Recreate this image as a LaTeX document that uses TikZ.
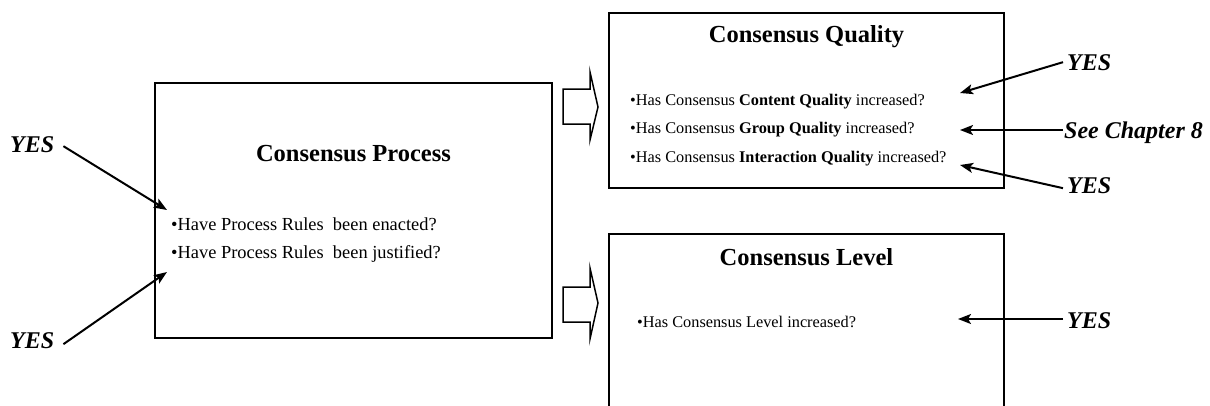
\documentclass[tikz,border=0pt]{standalone}
\usepackage{fontspec}
\setmainfont{Liberation Serif}
\usetikzlibrary{arrows.meta}
\begin{document}
\begin{tikzpicture}[x=1pt,y=-1pt,
  panel/.style={draw=black,line width=2pt,inner sep=0pt},
  heading/.style={font=\fontsize{24.5}{28}\selectfont\bfseries,anchor=base,inner sep=0pt},
  bigitem/.style={font=\fontsize{18.4}{22}\selectfont,anchor=base west,inner sep=0pt},
  smallitem/.style={font=\fontsize{16.3}{20}\selectfont,anchor=base west,inner sep=0pt},
  answer/.style={font=\fontsize{24}{28}\selectfont\bfseries\itshape,anchor=base west,inner sep=0pt},
  pointer/.style={line width=2pt,-{Stealth[length=13pt,width=10pt,inset=3pt]}},
  flow/.style={draw=black,line width=1.5pt,fill=white,line join=miter}]
\clip (0,0) rectangle (1210,405);

% the three panels
\node[panel,minimum width=397pt,minimum height=255pt] (proc) at (353.5,210.5) {};
\node[panel,minimum width=395pt,minimum height=175pt] (qual) at (806.5,100.5) {};
\node[panel,minimum width=395pt,minimum height=178pt] (lev) at (806.5,323) {};

% panel contents
\node[heading] (procT) at (353.5,161) {Consensus Process};
\node[bigitem] (p1) at (171,230) {\textbullet Have Process Rules\ \ been enacted?};
\node[bigitem] (p2) at (171,258) {\textbullet Have Process Rules\ \ been justified?};

\node[heading] (qualT) at (806.5,42) {Consensus Quality};
\node[smallitem] (q1) at (630,105) {\textbullet Has Consensus \textbf{Content Quality} increased?};
\node[smallitem] (q2) at (630,133) {\textbullet Has Consensus \textbf{Group Quality} increased?};
\node[smallitem] (q3) at (630,162) {\textbullet Has Consensus \textbf{Interaction Quality} increased?};

\node[heading] (levT) at (806.5,265) {Consensus Level};
\node[smallitem] (l1) at (637,327) {\textbullet Has Consensus Level increased?};

% block arrows between the panels
\draw[flow] (563,89) -- (590,89) -- (590,72) -- (598,107) -- (590,140) -- (590,124) -- (563,124) -- cycle;
\draw[flow] (563,287) -- (590,287) -- (590,268) -- (598,303) -- (590,339) -- (590,322) -- (563,322) -- cycle;

% answers
\node[answer] (y1) at (10,152) {YES};
\node[answer] (y2) at (10,348) {YES};
\node[answer] (y3) at (1067,70) {YES};
\node[answer] (ch8) at (1064,138) {See Chapter 8};
\node[answer] (y4) at (1067,193) {YES};
\node[answer] (y5) at (1067,328) {YES};

% arrow targets next to the questions
\coordinate (t1) at (167,210);
\coordinate (t2) at (167,272);
\coordinate (t3) at (960,93);
\coordinate (t4) at (960,130);
\coordinate (t5) at (960,165);
\coordinate (t6) at (958,319);

\draw[pointer] ([xshift=9pt,yshift=-2pt]y1.east) -- (t1);
\draw[pointer] ([xshift=9pt,yshift=-4pt]y2.east) -- (t2);
\draw[pointer] ([xshift=-4pt]y3.west) -- (t3);
\draw[pointer] ([xshift=-1pt]t4 -| ch8.west) -- (t4);
\draw[pointer] ([xshift=-4pt,yshift=-3pt]y4.west) -- (t5);
\draw[pointer] ([xshift=-4pt]t6 -| y5.west) -- (t6);
\end{tikzpicture}
\end{document}
